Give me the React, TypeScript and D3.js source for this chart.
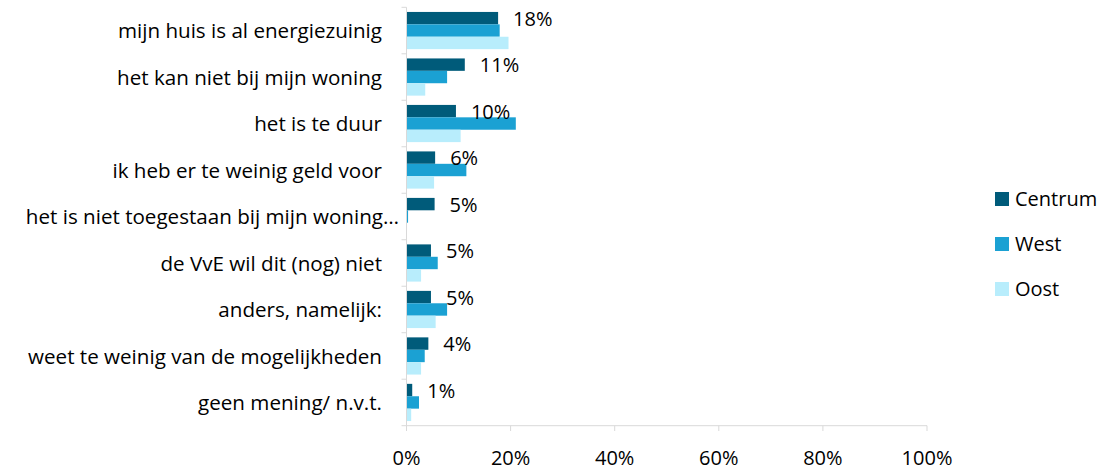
import React from "react";
import * as d3 from "d3";

const categories = [
  "mijn huis is al energiezuinig",
  "het kan niet bij mijn woning",
  "het is te duur",
  "ik heb er te weinig geld voor",
  "het is niet toegestaan bij mijn woning…",
  "de VvE wil dit (nog) niet",
  "anders, namelijk:",
  "weet te weinig van de mogelijkheden",
  "geen mening/ n.v.t.",
];
const seriesNames = ["Centrum", "West", "Oost"];
const centrum = [17.6, 11.2, 9.5, 5.5, 5.4, 4.7, 4.7, 4.2, 1.1];
const west = [17.9, 7.8, 21.0, 11.5, 0.3, 6.0, 7.8, 3.5, 2.4];
const oost = [19.6, 3.6, 10.4, 5.3, 0.0, 2.8, 5.6, 2.8, 0.9];
const dataLabels = ["18%", "11%", "10%", "6%", "5%", "5%", "5%", "4%", "1%"];
const xTicks = [0, 20, 40, 60, 80, 100];
const colors = ["#005B7A", "#1BA1D3", "#B8EDFC"];

const W = 1116;
const H = 469;
const FONT = "'Open Sans', 'Noto Sans', sans-serif";
const FS = 20;
const CAT_FS = 20.6;

export default function App() {
  const series = [centrum, west, oost];
  const x = d3.scaleLinear().domain([0, 100]).range([406.5, 927]);
  const y = d3.scaleBand<string>().domain(categories).range([7.3, 425.7]).paddingInner(0.2).paddingOuter(0.1);
  const yBand = d3.scaleBand<string>().domain(categories).range([7.3, 425.7]);
  const inner = d3.scaleBand<string>().domain(seriesNames).range([0, y.bandwidth()]);
  const axisColor = "#d9d9d9";
  const boundaries = d3.range(categories.length + 1).map((i) => 7.3 + i * yBand.step());

  return (
    <svg width={W} height={H} style={{ position: "absolute", left: 0, top: 0, background: "#fff" }}>
      {series.map((vals, si) =>
        vals.map((v, ci) => (
          <rect
            key={`${si}-${ci}`}
            x={x(0)}
            y={(y(categories[ci]) as number) + (inner(seriesNames[si]) as number)}
            width={Math.max(0, x(v) - x(0))}
            height={inner.bandwidth()}
            fill={colors[si]}
          />
        ))
      )}
      <line x1={x(0)} x2={x(0)} y1={boundaries[0]} y2={boundaries[boundaries.length - 1]} stroke={axisColor} strokeWidth={1} />
      {boundaries.map((b, i) => (
        <line key={i} x1={x(0) - 5} x2={x(0)} y1={b} y2={b} stroke={axisColor} strokeWidth={1} />
      ))}
      <line x1={x(0)} x2={x(100)} y1={425.7} y2={425.7} stroke={axisColor} strokeWidth={1} />
      {xTicks.map((t) => (
        <g key={t}>
          <line x1={x(t)} x2={x(t)} y1={425.7} y2={431} stroke={axisColor} strokeWidth={1} />
          <text x={x(t)} y={464.5} textAnchor="middle" fontFamily={FONT} fontSize={FS} fill="#000">
            {t}%
          </text>
        </g>
      ))}
      {categories.map((c) => (
        <text
          key={c}
          x={c.endsWith("…") ? 399 : 382}
          y={(yBand(c) as number) + yBand.step() / 2 + 7.7}
          textAnchor="end"
          fontFamily={FONT}
          fontSize={CAT_FS}
          fill="#000"
        >
          {c}
        </text>
      ))}
      {dataLabels.map((l, ci) => (
        <text
          key={ci}
          x={x(centrum[ci]) + 15}
          y={(y(categories[ci]) as number) + inner.bandwidth() / 2 + 7.5}
          fontFamily={FONT}
          fontSize={FS}
          fill="#000"
        >
          {l}
        </text>
      ))}
      {seriesNames.map((s, i) => (
        <g key={s} transform={`translate(995, ${192 + i * 45})`}>
          <rect x={0} y={0} width={14} height={14} fill={colors[i]} />
          <text x={20} y={14} fontFamily={FONT} fontSize={FS} fill="#000">
            {s}
          </text>
        </g>
      ))}
    </svg>
  );
}
